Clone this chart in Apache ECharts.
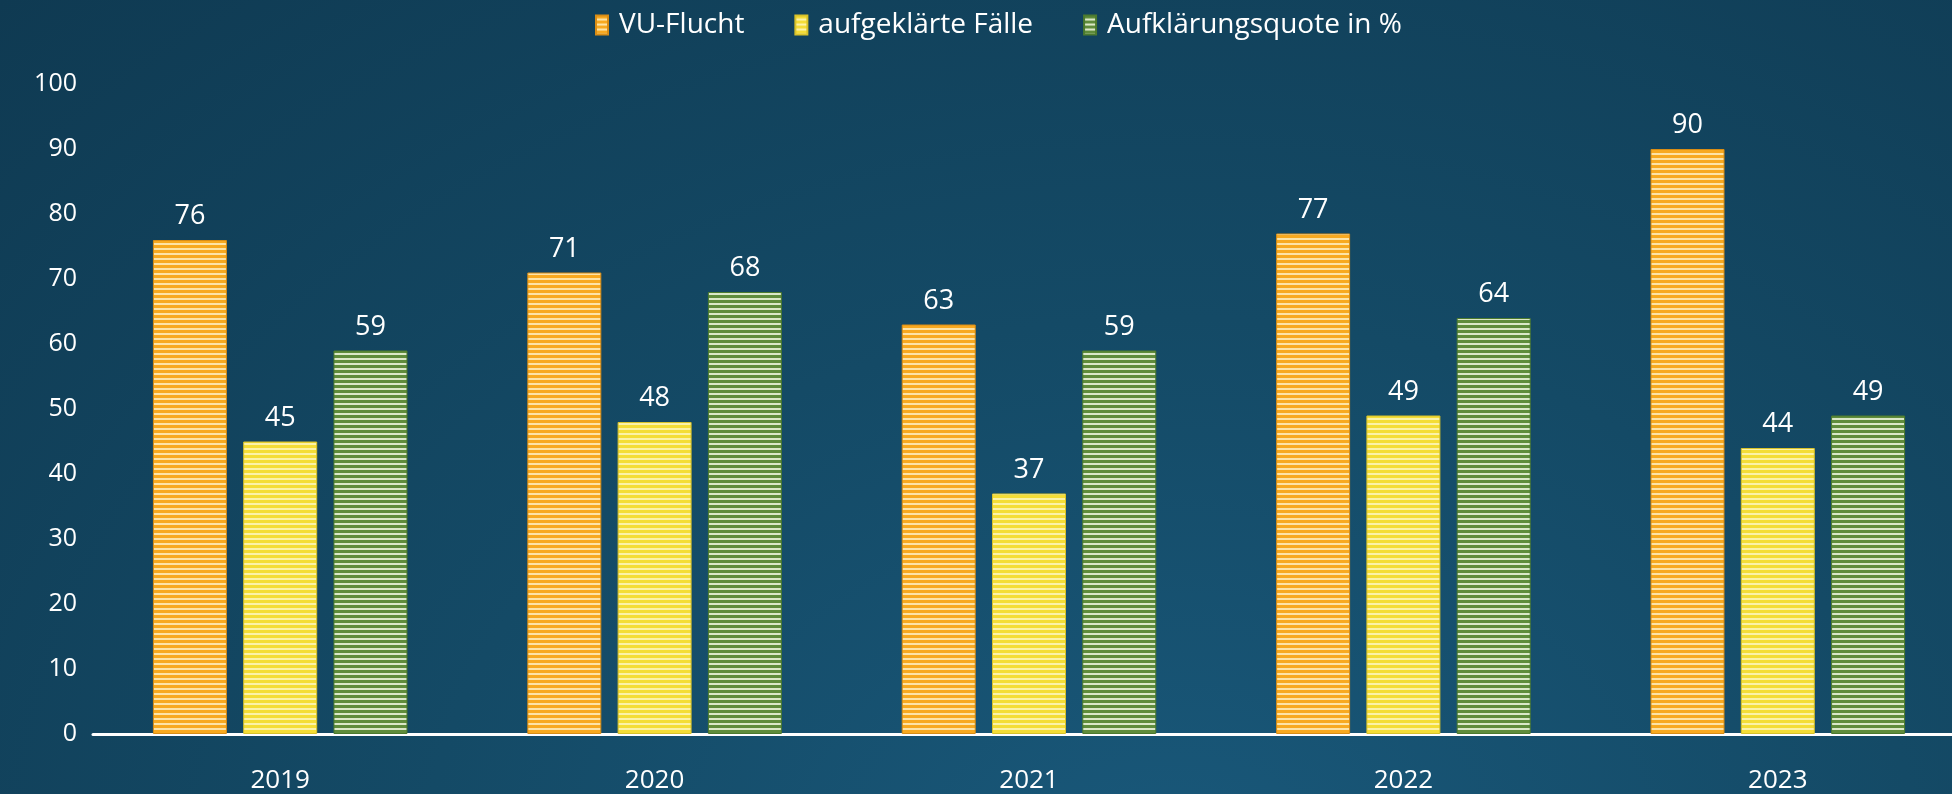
<!DOCTYPE html>
<html>
<head>
<meta charset="utf-8">
<script src="https://cdn.jsdelivr.net/npm/echarts@6/dist/echarts.min.js"></script>
<style>
  html, body { margin: 0; padding: 0; overflow: hidden; }
  body {
    width: 1952px;
    height: 794px;
    background: radial-gradient(ellipse at 60% 110%, #19587a 0%, #144a66 45%, #0f3a52 100%);
  }
  #chart {
    width: 1965px;
    height: 794px;
  }
</style>
</head>
<body>
<div id="chart"></div>
<script>
const years = ['2019', '2020', '2021', '2022', '2023']
const vuFlucht = [76, 71, 63, 77, 90]
const aufgeklaert = [45, 48, 37, 49, 44]
const quote = [59, 68, 59, 64, 49]
const yTicks = [0, 10, 20, 30, 40, 50, 60, 70, 80, 90, 100]

// gestreiftes Muster fuer die Balken
function stripes (base, light) {
  const c = document.createElement('canvas')
  c.width = 8
  c.height = 5
  const ctx = c.getContext('2d')
  ctx.fillStyle = base
  ctx.fillRect(0, 0, 8, 5)
  ctx.fillStyle = light
  ctx.fillRect(0, 3, 8, 2)
  return { image: c, repeat: 'repeat' }
}

const labelStyle = {
  show: true,
  position: 'top',
  distance: 10,
  color: '#ffffff',
  fontSize: 27,
  fontFamily: 'Open Sans'
}

function bar (name, data, base, light, border) {
  return {
    name: name,
    type: 'bar',
    barWidth: 74,
    barGap: '22%',
    itemStyle: {
      color: stripes(base, light),
      borderColor: border,
      borderWidth: 1
    },
    label: labelStyle,
    data: data
  }
}

const chart = echarts.init(document.getElementById('chart'))
chart.setOption({
  backgroundColor: 'transparent',
  animation: false,
  legend: {
    top: 6,
    left: 590,
    icon: 'rect',
    itemWidth: 12,
    itemHeight: 19,
    itemGap: 50,
    textStyle: {
      color: '#ffffff',
      fontSize: 28,
      fontFamily: 'Open Sans',
      padding: [0, 0, 0, 6]
    }
  },
  grid: {
    left: 93,
    top: 84,
    right: 0,
    bottom: 60,
    containLabel: false
  },
  xAxis: {
    type: 'category',
    data: years,
    axisLine: { lineStyle: { color: '#ffffff', width: 3 } },
    axisTick: { show: false },
    axisLabel: {
      color: '#ffffff',
      fontSize: 26,
      fontFamily: 'Open Sans',
      margin: 34
    }
  },
  yAxis: {
    type: 'value',
    min: yTicks[0],
    max: yTicks[yTicks.length - 1],
    interval: 10,
    splitLine: { show: false },
    axisLine: { show: false },
    axisTick: { show: false },
    axisLabel: {
      color: '#ffffff',
      fontSize: 25,
      fontFamily: 'Open Sans',
      margin: 16
    }
  },
  series: [
    bar('VU-Flucht', vuFlucht, '#f8a91f', '#fde3a6', '#d98d16'),
    bar('aufgeklärte Fälle', aufgeklaert, '#f4dd36', '#fbf2a8', '#d8c22a'),
    bar('Aufklärungsquote in %', quote, '#5f8c3b', '#dbe8c8', '#4c7a2e')
  ]
})
</script>
</body>
</html>
